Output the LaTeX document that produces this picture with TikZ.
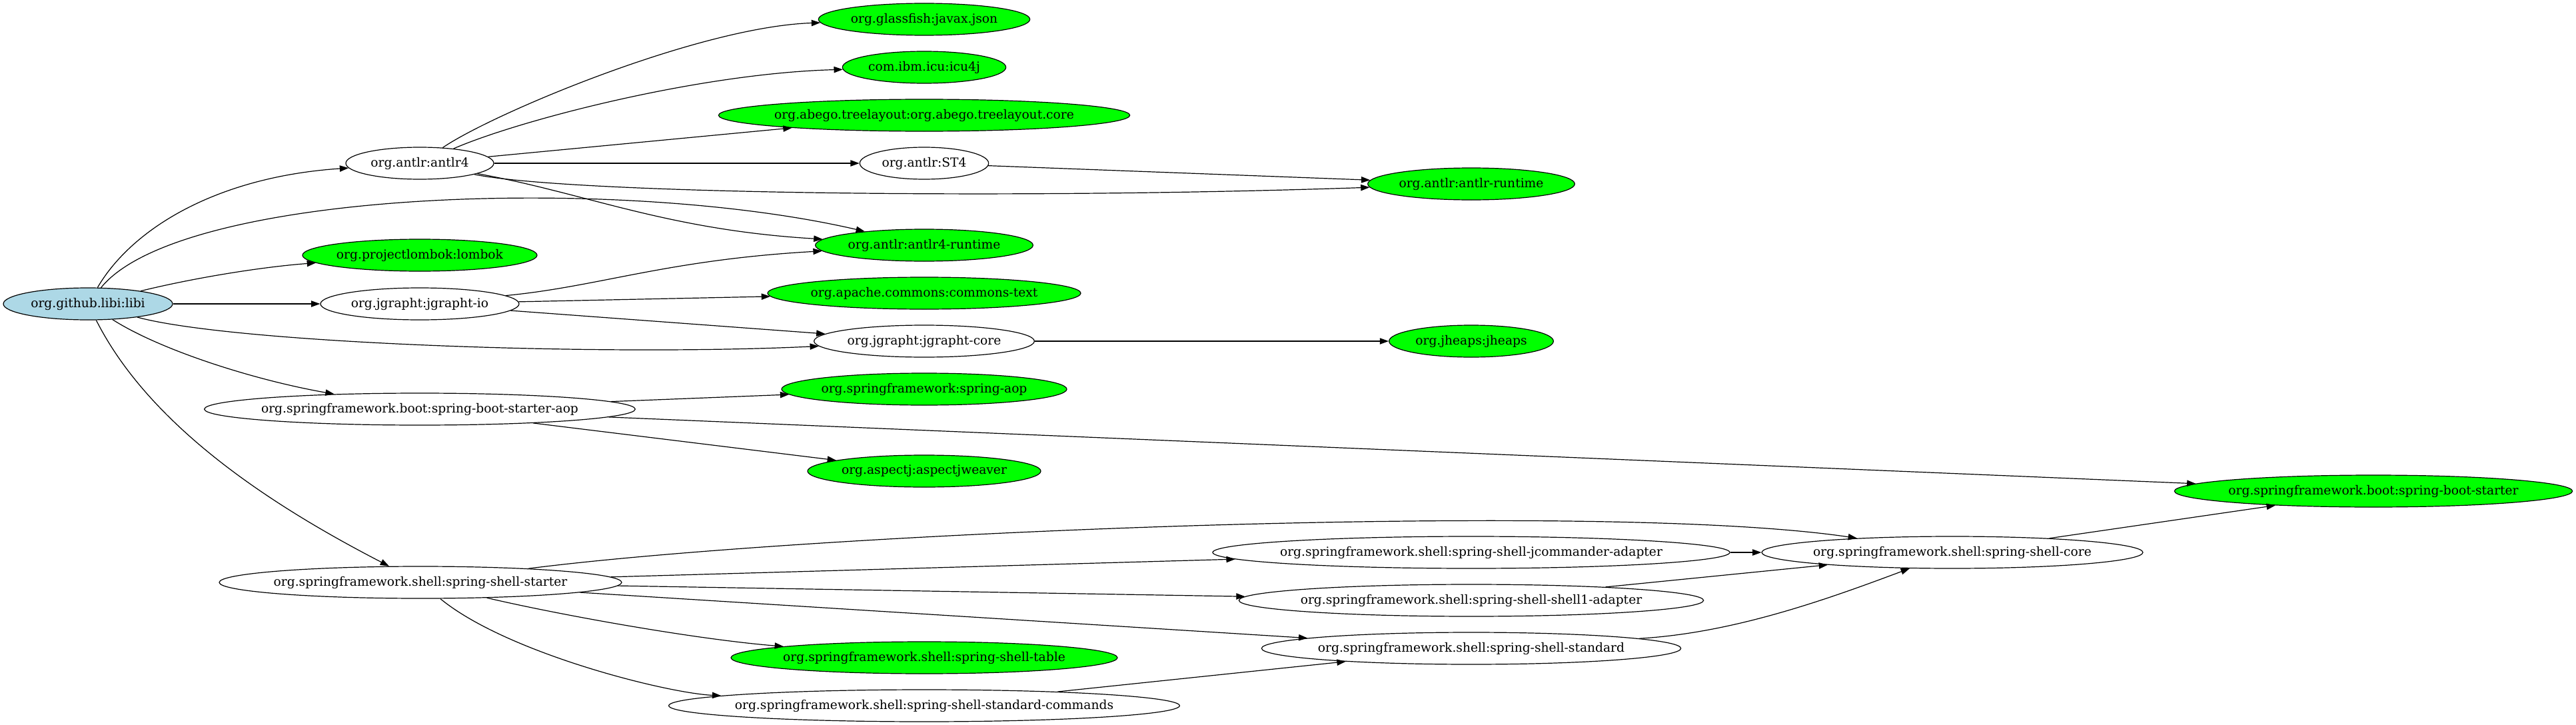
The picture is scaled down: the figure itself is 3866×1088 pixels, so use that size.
\documentclass[tikz,border=0pt]{standalone}
\usepackage{fontspec}
\setmainfont{DejaVu Serif}
\usetikzlibrary{shapes.geometric,arrows.meta}
\definecolor{leafgreen}{RGB}{0,255,0}
\definecolor{rootblue}{RGB}{173,216,230}
\tikzset{
  dep/.style={ellipse, draw=black, line width=0.9pt, minimum height=36pt, inner sep=0pt,
    font=\fontsize{14pt}{16pt}\selectfont},
  leaf/.style={dep, fill=leafgreen},
  root/.style={dep, fill=rootblue},
  dedge/.style={-{Triangle[length=10pt,width=7pt]}, line width=0.9pt}
}
\newcommand{\lbl}[1]{\makebox[0pt]{#1}}
\begin{document}
\begin{tikzpicture}[x=0.75pt,y=-0.75pt]
\useasboundingbox (0,0) rectangle (3866,1088);
% rank 0
\node[root, minimum width=190.5pt] (libi) at (132,456) {\lbl{org.github.libi:libi}};
% rank 1
\node[dep, minimum width=166.5pt] (antlr4) at (630,245) {\lbl{org.antlr:antlr4}};
\node[leaf, minimum width=264pt] (lombok) at (630,383) {\lbl{org.projectlombok:lombok}};
\node[dep, minimum width=223.5pt] (jio) at (630,456) {\lbl{org.jgrapht:jgrapht-io}};
\node[dep, minimum width=485pt] (aop) at (630,614) {\lbl{org.springframework.boot:spring-boot-starter-aop}};
\node[dep, minimum width=453pt] (sstarter) at (631,874) {\lbl{org.springframework.shell:spring-shell-starter}};
% rank 2
\node[leaf, minimum width=238pt] (glassfish) at (1387,29) {\lbl{org.glassfish:javax.json}};
\node[leaf, minimum width=184pt] (icu) at (1387,101) {\lbl{com.ibm.icu:icu4j}};
\node[leaf, minimum width=463pt] (abego) at (1387,173) {\lbl{org.abego.treelayout:org.abego.treelayout.core}};
\node[dep, minimum width=145pt] (st4) at (1387,245) {\lbl{org.antlr:ST4}};
\node[leaf, minimum width=245pt] (a4rt) at (1387,368) {\lbl{org.antlr:antlr4-runtime}};
\node[leaf, minimum width=352.5pt] (ctext) at (1387,440) {\lbl{org.apache.commons:commons-text}};
\node[dep, minimum width=248pt] (jcore) at (1387,512) {\lbl{org.jgrapht:jgrapht-core}};
\node[leaf, minimum width=321pt] (saop) at (1387,584) {\lbl{org.springframework:spring-aop}};
\node[leaf, minimum width=262.5pt] (aspectj) at (1387,707) {\lbl{org.aspectj:aspectjweaver}};
\node[leaf, minimum width=435pt] (table) at (1387,987) {\lbl{org.springframework.shell:spring-shell-table}};
\node[dep, minimum width=575pt] (stdcmd) at (1387,1059) {\lbl{org.springframework.shell:spring-shell-standard-commands}};
% rank 3
\node[leaf, minimum width=233pt] (art) at (2208,276) {\lbl{org.antlr:antlr-runtime}};
\node[leaf, minimum width=185pt] (jheaps) at (2208,512) {\lbl{org.jheaps:jheaps}};
\node[dep, minimum width=582pt] (jcmd) at (2208,829) {\lbl{org.springframework.shell:spring-shell-jcommander-adapter}};
\node[dep, minimum width=523pt] (shell1) at (2208,901) {\lbl{org.springframework.shell:spring-shell-shell1-adapter}};
\node[dep, minimum width=472pt] (std) at (2208,973) {\lbl{org.springframework.shell:spring-shell-standard}};
% rank 4
\node[dep, minimum width=429pt] (score) at (2930,829) {\lbl{org.springframework.shell:spring-shell-core}};
% rank 5
\node[leaf, minimum width=448pt] (bstarter) at (3562,737) {\lbl{org.springframework.boot:spring-boot-starter}};

% edges from libi
\draw[dedge] (libi) .. controls (200,340) and (330,265) .. (antlr4);
\draw[dedge] (libi) .. controls (270,285) and (930,262) .. (a4rt);
\draw[dedge] (libi) .. controls (300,415) and (400,400) .. (lombok);
\draw[dedge] (libi) -- (jio);
\draw[dedge] (libi) .. controls (350,515) and (900,535) .. (jcore);
\draw[dedge] (libi) .. controls (240,525) and (380,570) .. (aop);
\draw[dedge] (libi) .. controls (230,650) and (430,770) .. (sstarter);
% edges from antlr4
\draw[dedge] (antlr4) .. controls (740,170) and (1050,40) .. (glassfish);
\draw[dedge] (antlr4) .. controls (780,180) and (1050,110) .. (icu);
\draw[dedge] (antlr4) -- (abego);
\draw[dedge] (antlr4) -- (st4);
\draw[dedge] (antlr4) .. controls (850,290) and (1500,300) .. (art);
\draw[dedge] (antlr4) .. controls (880,290) and (1000,345) .. (a4rt);
\draw[dedge] (st4) -- (art);
% jgrapht
\draw[dedge] (jio) .. controls (900,430) and (1000,390) .. (a4rt);
\draw[dedge] (jio) -- (ctext);
\draw[dedge] (jio) -- (jcore);
\draw[dedge] (jcore) -- (jheaps);
% boot aop
\draw[dedge] (aop) -- (saop);
\draw[dedge] (aop) -- (aspectj);
\draw[dedge] (aop) -- (bstarter);
% shell starter
\draw[dedge] (sstarter) .. controls (1208,800) and (2400,750) .. (score);
\draw[dedge] (sstarter) -- (jcmd);
\draw[dedge] (sstarter) -- (shell1);
\draw[dedge] (sstarter) -- (std);
\draw[dedge] (sstarter) .. controls (850,925) and (1050,960) .. (table);
\draw[dedge] (sstarter) .. controls (760,980) and (1000,1040) .. (stdcmd);
% rank 3 -> core
\draw[dedge] (jcmd) -- (score);
\draw[dedge] (shell1) -- (score);
\draw[dedge] (std) .. controls (2600,950) and (2738,901) .. (score);
\draw[dedge] (stdcmd) -- (std);
\draw[dedge] (score) -- (bstarter);
\end{tikzpicture}
\end{document}
